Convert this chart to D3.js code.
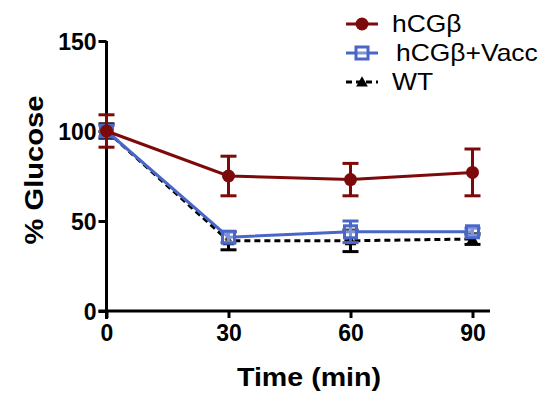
<!DOCTYPE html>
<html>
<head>
<meta charset="utf-8">
<script src="https://cdn.jsdelivr.net/npm/d3@7"></script>
<style>
  body { margin: 0; background: #fff; }
  text { font-family: "Liberation Sans", Arial, sans-serif; }
</style>
</head>
<body>
<div id="chart"></div>
<script>
// time points (min)
var times = [0, 30, 60, 90];

// mean % glucose and error (SEM) per group
var hcgMean = [100, 75, 73, 77];
var hcgErr  = [9, 11, 9, 13];
var vaccMean = [100, 41, 44, 44];
var vaccErr  = [3, 3, 6, 2];
var wtMean = [100, 39, 39, 40];
var wtErr  = [4, 5, 6, 3];

var seriesNames = ["hCGβ", "hCGβ+Vacc", "WT"];
var xTicks = [0, 30, 60, 90];
var yTicks = [0, 50, 100, 150];

var W = 552, H = 399;

var svg = d3.select("#chart").append("svg")
    .attr("width", W)
    .attr("height", H);

var x = d3.scaleLinear()
    .domain([0, 90])
    .range([106.5, 472.5]);

var y = d3.scaleLinear()
    .domain([0, 150])
    .range([311, 41]);

// axes
var xAxis = d3.axisBottom(x).tickValues(xTicks).tickSize(7).tickPadding(5);
var yAxis = d3.axisLeft(y).tickValues(yTicks).tickSize(8).tickPadding(2);

var gx = svg.append("g")
    .attr("transform", "translate(0," + y(0) + ")")
    .call(xAxis);
gx.select(".domain").attr("d", "M" + (x(0) - 8) + ",0H490");

var gy = svg.append("g")
    .attr("transform", "translate(" + x(0) + ",0)")
    .call(yAxis);
gy.select(".domain").attr("d", "M0," + y(150) + "V" + (y(0) + 8));

[gx, gy].forEach(function (g) {
    g.selectAll(".domain, line").attr("stroke", "#000").attr("stroke-width", 3);
    g.selectAll("text")
        .attr("fill", "#000")
        .style("font-size", "23px")
        .style("font-weight", "bold");
});
gy.selectAll("text").attr("dy", "0.36em");
gx.selectAll("text").attr("dy", "0.8em");

// axis titles (source is slightly stretched horizontally)
svg.append("text")
    .attr("transform", "translate(309,386) scale(1.1,1)")
    .attr("text-anchor", "middle")
    .style("font-size", "26px")
    .style("font-weight", "bold")
    .text("Time (min)");

svg.append("text")
    .attr("transform", "translate(43,170) rotate(-90) scale(1.12,1)")
    .attr("text-anchor", "middle")
    .style("font-size", "26px")
    .style("font-weight", "bold")
    .text("% Glucose");

var series = [
    { name: seriesNames[2], mean: wtMean, err: wtErr, color: "#000", dash: "6,4", shape: "tri" },
    { name: seriesNames[1], mean: vaccMean, err: vaccErr, color: "#4a66c8", dash: null, shape: "sq" },
    { name: seriesNames[0], mean: hcgMean, err: hcgErr, color: "#7d0a0a", dash: null, shape: "dot" }
];

var line = d3.line()
    .x(function (d) { return x(d.t); })
    .y(function (d) { return y(d.v); });

function drawMarker(g, shape, color, cx, cy) {
    if (shape === "dot") {
        g.append("circle").attr("cx", cx).attr("cy", cy).attr("r", 6.5).attr("fill", color);
    } else if (shape === "sq") {
        g.append("rect").attr("x", cx - 6).attr("y", cy - 6).attr("width", 12).attr("height", 12)
            .attr("fill", "#fff").attr("fill-opacity", 0.3).attr("stroke", color).attr("stroke-width", 3);
    } else {
        g.append("path").attr("d", d3.symbol().type(d3.symbolTriangle).size(60)())
            .attr("transform", "translate(" + cx + "," + (cy + 1) + ")")
            .attr("fill", color);
    }
}

series.forEach(function (s) {
    var pts = times.map(function (t, i) { return { t: t, v: s.mean[i], e: s.err[i] }; });
    var g = svg.append("g");

    // error bars
    pts.forEach(function (p) {
        var eb = g.append("g").attr("stroke", s.color).attr("stroke-width", 3);
        eb.append("line").attr("x1", x(p.t)).attr("x2", x(p.t))
            .attr("y1", y(p.v + p.e)).attr("y2", y(p.v - p.e));
        eb.append("line").attr("x1", x(p.t) - 8).attr("x2", x(p.t) + 8)
            .attr("y1", y(p.v + p.e)).attr("y2", y(p.v + p.e));
        eb.append("line").attr("x1", x(p.t) - 8).attr("x2", x(p.t) + 8)
            .attr("y1", y(p.v - p.e)).attr("y2", y(p.v - p.e));
    });

    g.append("path")
        .datum(pts)
        .attr("d", line)
        .attr("fill", "none")
        .attr("stroke", s.color)
        .attr("stroke-width", 3)
        .attr("stroke-dasharray", s.dash);

    pts.forEach(function (p) { drawMarker(g, s.shape, s.color, x(p.t), y(p.v)); });
});

// legend
var legendOrder = [series[2], series[1], series[0]];
legendOrder.forEach(function (s, i) {
    var ly = 24 + i * 29;
    var lg = svg.append("g");
    lg.append("line").attr("x1", 346).attr("x2", 378).attr("y1", ly).attr("y2", ly)
        .attr("stroke", s.color).attr("stroke-width", 3).attr("stroke-dasharray", s.dash);
    drawMarker(lg, s.shape, s.color, 362, ly);
    lg.append("text")
        .attr("transform", "translate(" + (i === 1 ? 396 : 392) + "," + ly + ") scale(1.15,1)")
        .attr("dy", "0.35em")
        .style("font-size", "23px")
        .text(s.name);
});
</script>
</body>
</html>
